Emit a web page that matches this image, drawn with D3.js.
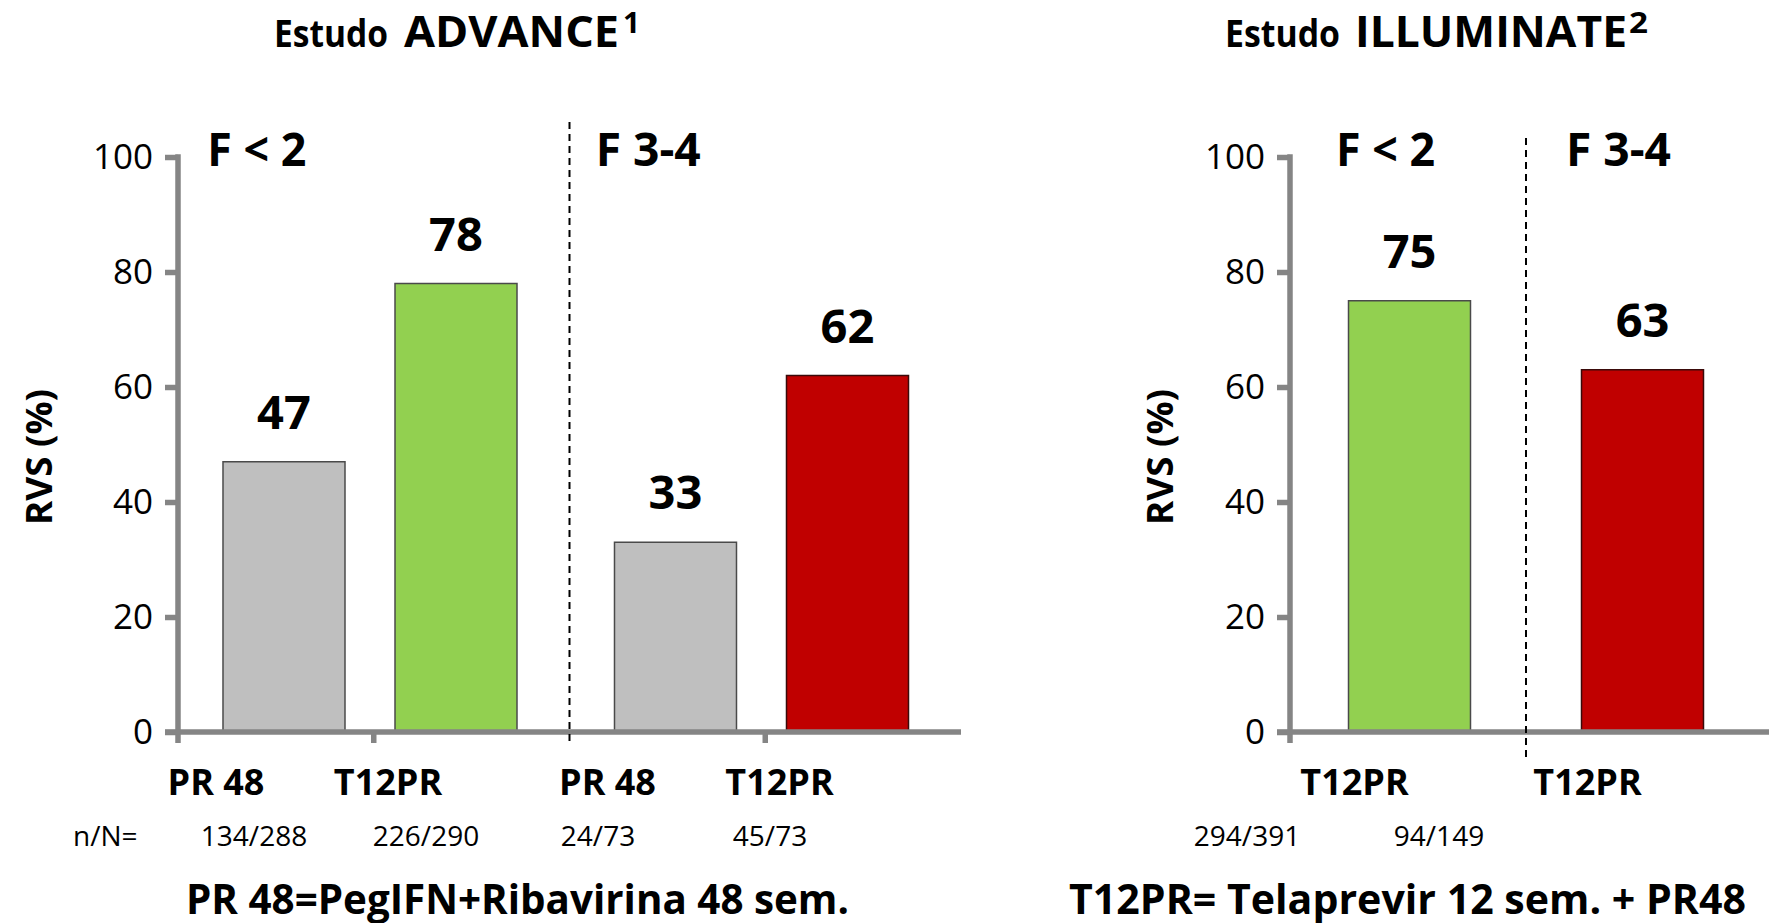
<!DOCTYPE html>
<html>
<head>
<meta charset="utf-8">
<script src="https://cdn.jsdelivr.net/npm/d3@7"></script>
<style>
  html, body { margin: 0; padding: 0; background: #fff; }
  svg { display: block; font-family: "Open Sans", "Noto Sans", sans-serif; }
</style>
</head>
<body>
<svg id="chart" width="1769" height="923"></svg>
<script>
// SVR (RVS) rates by fibrosis stage in the ADVANCE and ILLUMINATE trials
const yTicks = [0, 20, 40, 60, 80, 100];
const fibrosisGroups = ["F < 2", "F 3-4"];

const advanceArms = ["PR 48", "T12PR"];
const advanceValues = [47, 78, 33, 62];            // F<2: PR 48, T12PR | F 3-4: PR 48, T12PR
const advanceCounts = ["134/288", "226/290", "24/73", "45/73"];

const illuminateArms = ["T12PR"];
const illuminateValues = [75, 63];                 // F<2, F 3-4
const illuminateCounts = ["294/391", "94/149"];

const footnotes = ["PR 48=PegIFN+Ribavirina 48 sem.", "T12PR= Telaprevir 12 sem. + PR48"];

// ---- layout ----
const AXIS = "#858585", AXIS_W = 5.5;
const COLORS = { control: "#bfbfbf", early: "#92d050", advanced: "#c00000" };
const OUTLINE = { control: "#4a4a4a", early: "#4a4a4a", advanced: "#3a0a0a" };

const svg = d3.select("#chart");
const y = d3.scaleLinear().domain([0, 100]).range([732, 157]);

// horizontal squeeze so text fills a given width
function fit(sel, w) { if (w) sel.attr("textLength", w).attr("lengthAdjust", "spacingAndGlyphs"); return sel; }

const panels = [
  {
    study: "ADVANCE", sup: "1", arms: advanceArms, values: advanceValues, counts: advanceCounts,
    axisX: 178, axisEnd: 961, groupRange: [178, 961],
    padIn: 0.2907, padOut: 0.2834, align: 0.4615, groupTicks: true,
    titleX: [274, 404, 623], titleW: [114, 215, 17],
    groupLabelShift: -117, armLabelShift: -68, countRange: [254, 770],
    divTop: 122, divBottom: 745, yTitleX: 52, countsLead: true
  },
  {
    study: "ILLUMINATE", sup: "2", arms: illuminateArms, values: illuminateValues, counts: illuminateCounts,
    axisX: 1290, axisEnd: 1769, groupRange: [1293, 1759],
    padIn: 0, padOut: 0.455, align: 0.5, groupTicks: false,
    titleX: [1225, 1355, 1629], titleW: [115, 272, 19],
    groupLabelShift: -24, armLabelShift: -55, countRange: [1247, 1439],
    divTop: 138, divBottom: 758, yTitleX: 1173, countsLead: false
  }
];

const groupLabelW = { "F < 2": 99, "F 3-4": 105 };

panels.forEach(p => {
  const g = svg.append("g");

  const gx = d3.scaleBand().domain(fibrosisGroups).range(p.groupRange);
  const ax = d3.scaleBand().domain(p.arms).range([0, gx.bandwidth()])
    .paddingInner(p.padIn).paddingOuter(p.padOut).align(p.align);

  const rows = [];
  fibrosisGroups.forEach((grp, gi) => p.arms.forEach((arm, ai) => {
    rows.push({ group: grp, arm, value: p.values[gi * p.arms.length + ai] });
  }));
  const kind = d => d.arm === "PR 48" ? "control" : (d.group === "F < 2" ? "early" : "advanced");
  const cx = d => gx(d.group) + ax(d.arm) + ax.bandwidth() / 2;

  // title
  const tY = 47;
  fit(g.append("text").attr("x", p.titleX[0]).attr("y", tY).attr("font-size", 37).attr("font-weight", 700)
    .text("Estudo"), p.titleW[0]);
  fit(g.append("text").attr("x", p.titleX[1]).attr("y", tY).attr("font-size", 43).attr("font-weight", 700)
    .text(p.study), p.titleW[1]);
  fit(g.append("text").attr("x", p.titleX[2]).attr("y", 33).attr("font-size", 29).attr("font-weight", 700)
    .text(p.sup), p.titleW[2]);

  // bars
  g.selectAll("rect.bar").data(rows).join("rect").attr("class", "bar")
    .attr("x", d => gx(d.group) + ax(d.arm))
    .attr("width", ax.bandwidth())
    .attr("y", d => y(d.value))
    .attr("height", d => y(0) - y(d.value))
    .attr("fill", d => COLORS[kind(d)])
    .attr("stroke", d => OUTLINE[kind(d)])
    .attr("stroke-width", 1.5);

  // value labels
  g.selectAll("text.val").data(rows).join("text").attr("class", "val")
    .attr("x", cx).attr("y", d => y(d.value) - 33)
    .attr("text-anchor", "middle").attr("font-size", 47).attr("font-weight", 700)
    .text(d => d.value);

  // y axis
  const yAxis = g.append("g").attr("transform", `translate(${p.axisX},0)`)
    .call(d3.axisLeft(y).tickValues(yTicks).tickSize(13).tickPadding(12).tickSizeOuter(0));
  yAxis.select(".domain").remove();
  yAxis.selectAll(".tick line").attr("stroke", AXIS).attr("stroke-width", AXIS_W);
  yAxis.selectAll(".tick text").attr("font-size", 35).attr("fill", "#000")
    .attr("font-family", "\"Open Sans\", sans-serif");
  g.append("line").attr("x1", p.axisX).attr("x2", p.axisX)
    .attr("y1", y(100) - AXIS_W / 2).attr("y2", y(0) + 11)
    .attr("stroke", AXIS).attr("stroke-width", AXIS_W);

  // x axis
  g.append("line").attr("x1", p.axisX - 13).attr("x2", p.axisEnd)
    .attr("y1", y(0)).attr("y2", y(0))
    .attr("stroke", AXIS).attr("stroke-width", AXIS_W);
  if (p.groupTicks) {
    const xAxis = g.append("g").attr("transform", `translate(0,${y(0)})`)
      .call(d3.axisBottom(gx).tickSize(11).tickSizeOuter(0).tickFormat(""));
    xAxis.select(".domain").remove();
    xAxis.selectAll(".tick line").attr("stroke", AXIS).attr("stroke-width", AXIS_W);
  }

  // dashed divider between fibrosis groups
  const divX = gx(fibrosisGroups[1]);
  g.append("line").attr("x1", divX).attr("x2", divX)
    .attr("y1", p.divTop).attr("y2", p.divBottom)
    .attr("stroke", "#000").attr("stroke-width", 2).attr("stroke-dasharray", "7,5");

  // fibrosis group headers
  fibrosisGroups.forEach(grp => {
    fit(g.append("text").attr("x", gx(grp) + gx.bandwidth() / 2 + p.groupLabelShift).attr("y", 166)
      .attr("text-anchor", "middle").attr("font-size", 46).attr("font-weight", 700)
      .text(grp), groupLabelW[grp]);
  });

  // arm labels
  rows.forEach(d => {
    g.append("text").attr("x", cx(d) + p.armLabelShift).attr("y", 795)
      .attr("text-anchor", "middle").attr("font-size", 36).attr("font-weight", 700)
      .text(d.arm);
  });

  // patient counts
  const cxN = d3.scalePoint().domain(d3.range(p.counts.length)).range(p.countRange);
  p.counts.forEach((c, i) => {
    g.append("text").attr("x", cxN(i)).attr("y", 846)
      .attr("text-anchor", "middle").attr("font-size", 28).text(c);
  });
  if (p.countsLead) {
    g.append("text").attr("x", 73).attr("y", 846).attr("font-size", 28).text("n/N=");
  }

  // y axis title
  fit(g.append("text").attr("transform", `translate(${p.yTitleX},457) rotate(-90)`)
    .attr("text-anchor", "middle").attr("font-size", 36).attr("font-weight", 700)
    .text("RVS (%)"), 136);
});

// abbreviation footnotes
fit(svg.append("text").attr("x", 186).attr("y", 914).attr("font-size", 42).attr("font-weight", 700)
  .text(footnotes[0]), 663);
fit(svg.append("text").attr("x", 1069).attr("y", 914).attr("font-size", 42).attr("font-weight", 700)
  .text(footnotes[1]), 677);
</script>
</body>
</html>
